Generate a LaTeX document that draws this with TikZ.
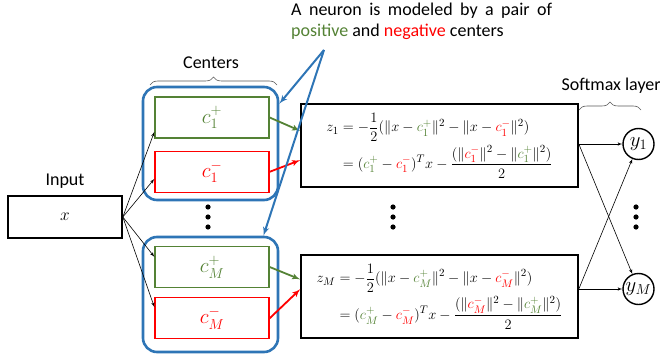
\documentclass[tikz,border=0pt]{standalone}
\usepackage{amsmath}
\usepackage{fontspec}
\setmainfont{Carlito}
\usetikzlibrary{decorations.pathreplacing}
\usetikzlibrary{positioning}
\usetikzlibrary{arrows}
\definecolor{cgreen}{RGB}{84,130,53}
\definecolor{cblue}{RGB}{46,117,182}
\newcommand{\cpos}[1]{{\color{cgreen}c_{#1}^{+}}}
\newcommand{\cneg}[1]{{\color{red}c_{#1}^{-}}}
\begin{document}
\begin{tikzpicture}[x=1pt, y=-1pt,
				internal/.style={draw, rectangle, line width=1.6pt, inner sep=4pt},
				posbox/.style={internal, draw=cgreen, line width=1.3pt, minimum width=114pt, minimum height=41pt, font=\fontsize{21}{25}\selectfont},
				negbox/.style={posbox, draw=red},
				pairbox/.style={draw=cblue, line width=2.6pt, rounded corners=14pt, minimum width=135pt},
				outnode/.style={draw, circle, line width=1.4pt, minimum size=31pt, inner sep=0pt, font=\fontsize{20}{24}\selectfont},
				line/.style={draw, -latex', line width=0.6pt},
				bracket/.style={decorate, decoration={brace, amplitude=8pt}, gray!70!black, line width=0.6pt},
				font=\fontsize{18}{21}\selectfont]
				\useasboundingbox (0,0) rectangle (660,358);
				
				\node[internal, minimum width=114pt, minimum height=42pt, font=\fontsize{17}{20}\selectfont](nodeX) at (65, 217) {$x$};
				\node[above=3pt of nodeX](nodeIn) {Input};
				
				\node[pairbox, minimum height=113pt](nodeG1) at (210.5, 143.5) {};
				\node[pairbox, minimum height=115pt](nodeG2) at (210.5, 294.5) {};
				\node[posbox](nodeP1) at (212, 117.5) {$\cpos{1}$};
				\node[negbox, below=12pt of nodeP1](nodeN1) {$\cneg{1}$};
				\node[posbox](nodePM) at (212, 267) {$\cpos{M}$};
				\node[negbox, below=9pt of nodePM](nodeNM) {$\cneg{M}$};
				
				\draw[bracket] (150, 85) -- (277, 85);
				\node(nodeC) at (211, 63) {Centers};
				
				\node[internal, minimum width=277pt, minimum height=83pt, font=\fontsize{15.5}{18.5}\selectfont](nodeZ1) at (439.5, 145.5) {$\begin{aligned}
					z_1 &= -\frac{1}{2}(\|x-\cpos{1}\|^2-\|x-\cneg{1}\|^2)\\
					&= (\cpos{1}-\cneg{1})^T x-\frac{(\|\cneg{1}\|^2-\|\cpos{1}\|^2)}{2}
				\end{aligned}$};
				\node[internal, minimum width=277pt, minimum height=83pt, font=\fontsize{15.5}{18.5}\selectfont](nodeZM) at (439.5, 296.5) {$\begin{aligned}
					z_M &= -\frac{1}{2}(\|x-\cpos{M}\|^2-\|x-\cneg{M}\|^2)\\
					&= (\cpos{M}-\cneg{M})^T x-\frac{(\|\cneg{M}\|^2-\|\cpos{M}\|^2)}{2}
				\end{aligned}$};
				
				\node[outnode](nodeY1) at (638.5, 144) {$y_1$};
				\node[outnode](nodeYM) at (638.5, 289) {$y_M$};
				
				\draw[bracket] (579, 110) -- (641, 110);
				\node[anchor=west](nodeS) at (558, 86) {Softmax layer};
				
				% dots
				\foreach \x in {208, 393, 636}
					\foreach \y in {207, 217, 227}
						\fill (\x, \y) circle (2.6);
				
				% input to centers
				\path[line] (nodeX.east) -- (nodeP1.194);
				\path[line] (nodeX.east) -- (nodeN1.187);
				\path[line] (nodeX.east) -- (nodePM.170);
				\path[line] (nodeX.east) -- (nodeNM.169);
				
				% centers to neurons
				\draw[-latex', line width=1.8pt, cgreen] (nodeP1.east) -- (nodeZ1.174);
				\draw[-latex', line width=1.8pt, red] (nodeN1.east) -- (nodeZ1.186);
				\draw[-latex', line width=1.8pt, cgreen] (nodePM.east) -- (nodeZM.173);
				\draw[-latex', line width=1.8pt, red] (nodeNM.east) -- (nodeZM.177);
				
				% neurons to softmax
				\path[line] (nodeZ1.east |- nodeY1) -- (nodeY1);
				\path[line] (nodeZ1.east |- nodeY1) -- (nodeYM);
				\path[line] (nodeZM.east |- nodeYM) -- (nodeYM);
				\path[line] (nodeZM.east |- nodeYM) -- (nodeY1);
				
				% note
				\node[anchor=north west, align=left, inner sep=0pt](nodeNote) at (291, 3) {\makebox[261pt][s]{A neuron is modeled by a pair of}\\[0pt]
					{\color{cgreen}positive} and {\color{red}negative} centers};
				\coordinate (tip) at (324, 50);
				\draw[-latex', line width=2pt, cblue] (tip) -- (nodeG1.30);
				\draw[-latex', line width=2pt, cblue] (tip) -- (nodeG2.48);
			\end{tikzpicture}
\end{document}
